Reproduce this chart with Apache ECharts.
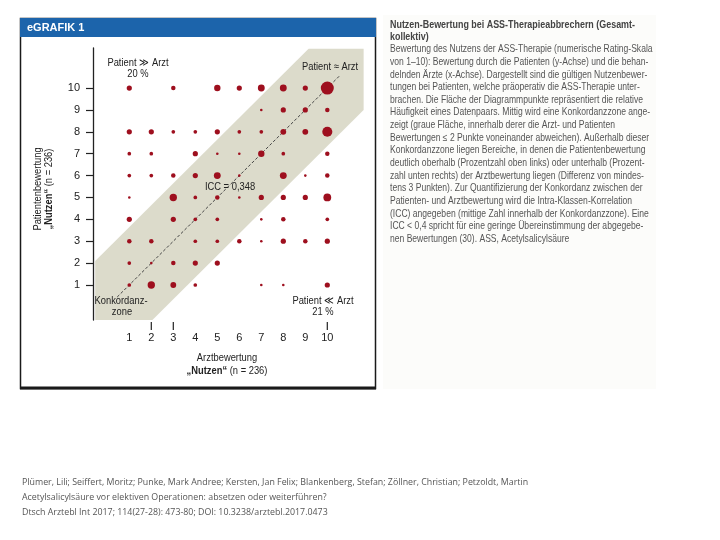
<!DOCTYPE html>
<html><head><meta charset="utf-8">
<script src="https://cdn.jsdelivr.net/npm/echarts@6/dist/echarts.min.js"></script>
<style>html,body{margin:0;padding:0;background:#fff}#c{width:720px;height:540px}</style>
</head><body><div id="c"></div>
<script>
// Arztbewertung (x), Patientenbewertung (y), relative frequency (count)
const arztX    = [1,3,5,6,7,8,9,10, 7,8,9,10, 1,2,3,4,5,6,7,8,9,10, 1,2,4,5,6,7,8,10, 1,2,3,4,5,6,8,9,10, 1,3,4,5,6,7,8,9,10, 1,3,4,5,7,8,10, 1,2,4,5,6,7,8,9,10, 1,2,3,4,5, 1,2,3,4,7,8,10];
const patientY = [10,10,10,10,10,10,10,10, 9,9,9,9, 8,8,8,8,8,8,8,8,8,8, 7,7,7,7,7,7,7,7, 6,6,6,6,6,6,6,6,6, 5,5,5,5,5,5,5,5,5, 4,4,4,4,4,4,4, 3,3,3,3,3,3,3,3,3, 2,2,2,2,2, 1,1,1,1,1,1,1];
const counts   = [4,3,6,4,7,7,4,25, 1,4,4,3, 4,4,2,2,4,2,2,5,5,15, 2,2,4,1,1,6,2,3, 2,2,3,4,7,1,7,1,3, 1,8,2,3,1,4,4,4,9, 4,4,2,2,1,3,2, 3,3,2,2,3,1,4,3,4, 2,1,3,4,4, 2,8,5,2,1,1,4];
const xTicks = [1,2,3,4,5,6,7,8,9,10];
const yTicks = [1,2,3,4,5,6,7,8,9,10];
const xTickMarks = [2,3,10];
// concordance zone (|Patient - Arzt| within ~2 points), in rating units
const bandX = [-0.55, -0.55, 9.15, 11.65, 11.65, 2.05];
const bandY = [-0.6, 2.1, 11.8, 11.8, 9.0, -0.6];
const diagX = [0.45, 10.6];
const diagY = [0.45, 10.6];
const iccText = 'ICC = 0,348';
const upperPct = '20 %';
const lowerPct = '21 %';
const captionTitle = ['Nutzen-Bewertung bei ASS-Therapieabbrechern (Gesamt-','kollektiv)'];
const captionBody = [
'Bewertung des Nutzens der ASS-Therapie (numerische Rating-Skala',
'von 1–10): Bewertung durch die Patienten (y-Achse) und die behan-',
'delnden Ärzte (x-Achse). Dargestellt sind die gültigen Nutzenbewer-',
'tungen bei Patienten, welche präoperativ die ASS-Therapie unter-',
'brachen. Die Fläche der Diagrammpunkte repräsentiert die relative',
'Häufigkeit eines Datenpaars. Mittig wird eine Konkordanzzone ange-',
'zeigt (graue Fläche, innerhalb derer die Arzt- und Patienten',
'Bewertungen ≤ 2 Punkte voneinander abweichen). Außerhalb dieser',
'Konkordanzzone liegen Bereiche, in denen die Patientenbewertung',
'deutlich oberhalb (Prozentzahl oben links) oder unterhalb (Prozent-',
'zahl unten rechts) der Arztbewertung liegen (Differenz von mindes-',
'tens 3 Punkten). Zur Quantifizierung der Konkordanz zwischen der',
'Patienten- und Arztbewertung wird die Intra-Klassen-Korrelation',
'(ICC) angegeben (mittige Zahl innerhalb der Konkordanzzone). Eine',
'ICC < 0,4 spricht für eine geringe Übereinstimmung der abgegebe-',
'nen Bewertungen (30). ASS, Acetylsalicylsäure'];
const citation = [
'Plümer, Lili; Seiffert, Moritz; Punke, Mark Andree; Kersten, Jan Felix; Blankenberg, Stefan; Zöllner, Christian; Petzoldt, Martin',
'Acetylsalicylsäure vor elektiven Operationen: absetzen oder weiterführen?',
'Dtsch Arztebl Int 2017; 114(27-28): 473-80; DOI: 10.3238/arztebl.2017.0473'];

const FN = '"Liberation Sans", Arial, sans-serif';
const SX = 0.85;
const chart = echarts.init(document.getElementById('c'), null, {renderer:'canvas'});
const scatterData = arztX.map((x,i)=>[x, patientY[i], counts[i]]);
const dark = '#222';
const richB = {b:{fontWeight:'bold', fontSize:11, fontFamily:FN, fill:dark}};
function t(x, y, text, rotation, rich) {
  const style = {text:text, fill:dark, font:'11px '+FN, align:'center', verticalAlign:'middle'};
  if (rich) style.rich = rich;
  const el = {type:'text', x:x, y:y, z:100, scaleX:SX, style:style};
  if (rotation) el.rotation = rotation;
  return el;
}
const graphics = [
  {type:'rect', z:-10, shape:{x:383,y:15,width:273,height:374}, style:{fill:'#fcfcfa'}},
  {type:'rect', z:90, shape:{x:20.5,y:18.5,width:355,height:370}, style:{fill:'none',stroke:'#1a1a1a',lineWidth:1.5}},
  {type:'line', z:90, shape:{x1:20,y1:388,x2:376,y2:388}, style:{stroke:'#1a1a1a',lineWidth:3}},
  {type:'rect', z:95, shape:{x:20,y:18,width:356,height:19}, style:{fill:'#1c64ab'}},
  {type:'text', z:100, x:27, y:28, style:{text:'eGRAFIK 1', fill:'#fff', font:'bold 11px '+FN, verticalAlign:'middle'}},
  t(138, 63, 'Patient ≫ Arzt'),
  t(138, 74, upperPct),
  t(330, 67, 'Patient ≈ Arzt'),
  t(230, 187, iccText),
  t(121, 301, 'Konkordanz-'),
  t(122, 312, 'zone'),
  t(323, 301, 'Patient ≪ Arzt'),
  t(323, 312, lowerPct),
  t(227, 358, 'Arztbewertung'),
  t(227, 371, '{b|„Nutzen“} (n = 236)', 0, richB),
  t(38, 189, 'Patientenbewertung', Math.PI/2),
  t(49, 189, '{b|„Nutzen“} (n = 236)', Math.PI/2, richB),
  {type:'text', z:100, x:390, y:19, scaleX:0.85, style:{text:captionTitle.join('\n'), fill:'#444', font:'bold 10.5px '+FN, lineHeight:12, verticalAlign:'top'}},
  {type:'text', z:100, x:390, y:43, scaleX:0.815, style:{text:captionBody.join('\n'), fill:'#555', font:'10.5px '+FN, lineHeight:12.65, verticalAlign:'top'}},
  {type:'text', z:100, x:22, y:475, scaleX:0.93, style:{text:citation.join('\n'), fill:'#555', font:'9.5px "Open Sans", sans-serif', lineHeight:15, verticalAlign:'top'}}
];
chart.setOption({
  animation:false,
  backgroundColor:'#fff',
  grid:{left:93, top:48, width:271.7, height:272, containLabel:false},
  xAxis:{type:'value', min:-0.65, max:11.7,
    axisLine:{show:false},
    axisTick:{show:false},
    axisLabel:{customValues:xTicks, margin:12, color:dark, fontSize:11, fontFamily:FN},
    splitLine:{show:false}},
  yAxis:{type:'value', min:-0.6, max:11.83,
    axisLine:{show:true, onZero:false, lineStyle:{color:dark,width:1.3}},
    axisTick:{show:true, customValues:yTicks, length:7, lineStyle:{color:dark,width:1.2}},
    axisLabel:{customValues:yTicks, margin:13, color:dark, fontSize:11, fontFamily:FN},
    splitLine:{show:false}},
  series:[
    {type:'custom', z:1, silent:true, data:[0],
     renderItem:(params, api)=>({type:'polygon',
       shape:{points:bandX.map((x,i)=>api.coord([x, bandY[i]]))},
       style:{fill:'#dcdbcb'}})},
    {type:'line', z:2, showSymbol:false, silent:true,
     data:diagX.map((x,i)=>[x, diagY[i]]),
     lineStyle:{color:'#444', width:1, type:[3,2]}},
    {type:'scatter', z:3, data:scatterData,
     symbolSize:d=>2.6*Math.sqrt(d[2]),
     itemStyle:{color:'#9e0f1e', opacity:1}}
  ],
  graphic:graphics
});
// x tick marks placed through the axis scale
const tickEls = xTickMarks.map(v=>{
  const p = chart.convertToPixel({gridIndex:0}, [v, -0.6]);
  return {type:'line', z:100, shape:{x1:p[0], y1:p[1]+2, x2:p[0], y2:p[1]+10}, style:{stroke:dark, lineWidth:1.2}};
});
chart.setOption({graphic:graphics.concat(tickEls)});
</script></body></html>
